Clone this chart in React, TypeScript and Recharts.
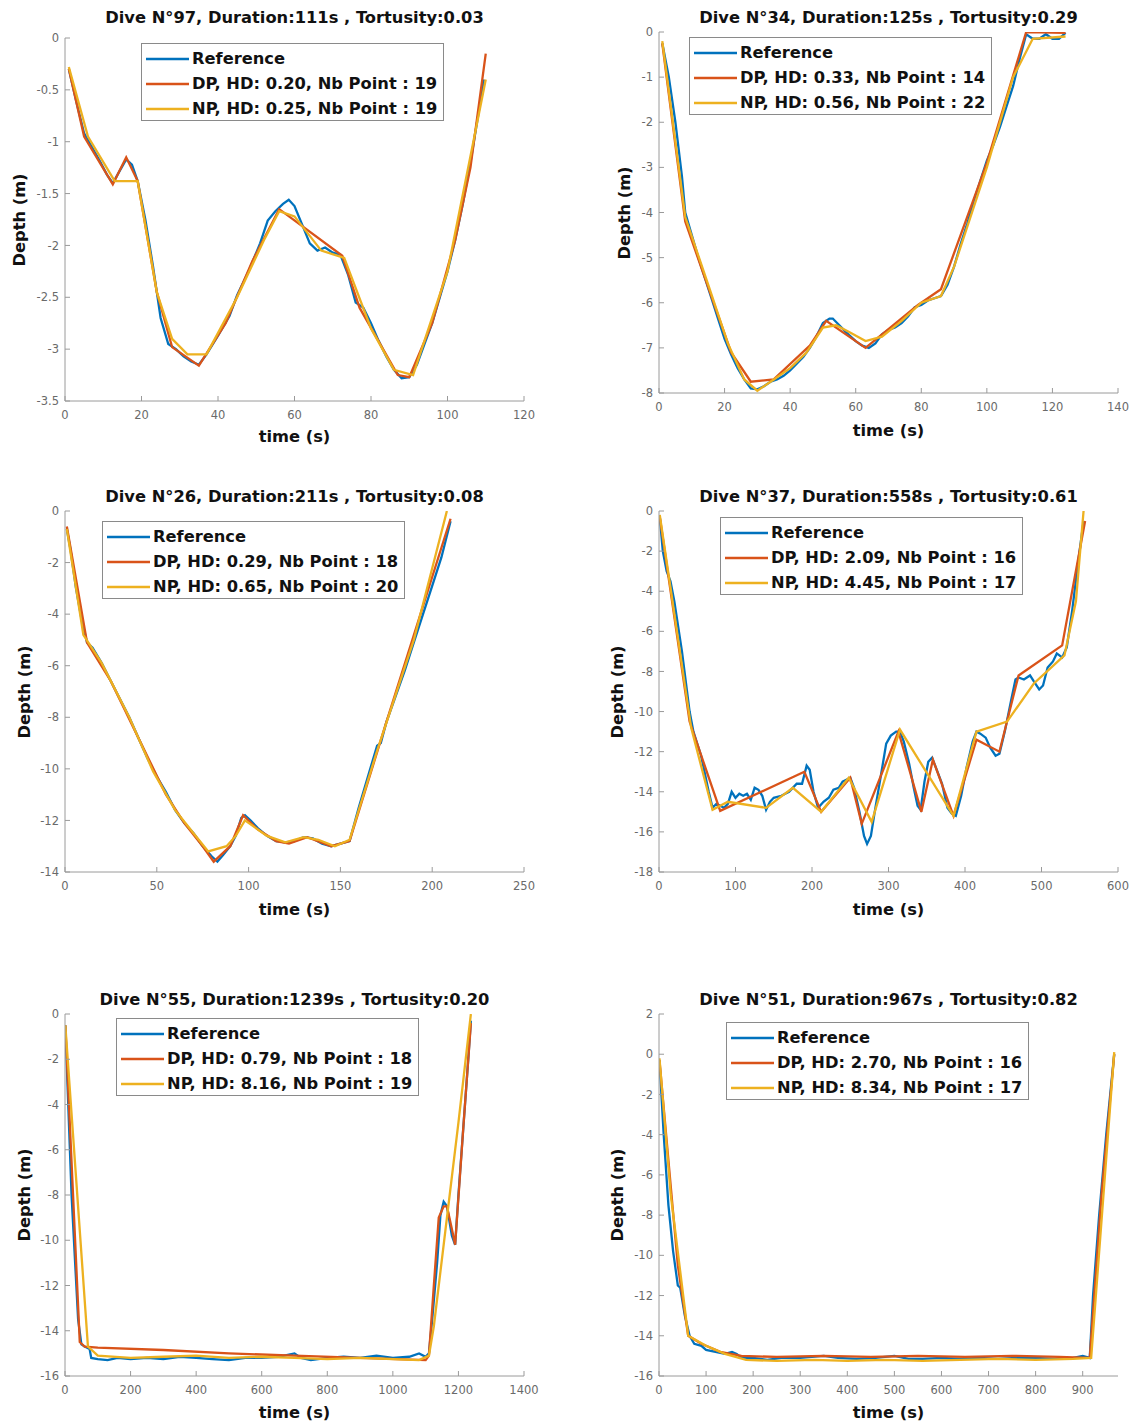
import React from 'react';
import { LineChart, Line, XAxis, YAxis } from 'recharts';

type Pt = [number, number];

// ---------- Dive 97 ----------
const ref97: Pt[] = [[1,-0.3],[3,-0.62],[5,-0.92],[7,-1.05],[9,-1.18],[11,-1.32],[12.5,-1.4],[14,-1.3],[16,-1.17],[17.5,-1.22],[19,-1.38],[21,-1.75],[23,-2.2],[25,-2.7],[27,-2.95],[29,-3.0],[31,-3.07],[33,-3.12],[35,-3.15],[37,-3.05],[40,-2.87],[43,-2.68],[45,-2.48],[48,-2.25],[51,-1.98],[53,-1.76],[55,-1.67],[57,-1.6],[58.5,-1.56],[60,-1.62],[62,-1.8],[64,-1.98],[66,-2.05],[68,-2.02],[70,-2.07],[72,-2.09],[74,-2.28],[76,-2.55],[78,-2.6],[80,-2.75],[82,-2.92],[84,-3.07],[86,-3.2],[88,-3.28],[90,-3.27],[92,-3.15],[94,-2.95],[96,-2.75],[98,-2.5],[100,-2.25],[102,-1.95],[104,-1.6],[106,-1.2],[108,-0.75],[109.5,-0.4]];
const dp97: Pt[] = [[1,-0.3],[5,-0.95],[12.5,-1.41],[16,-1.15],[19,-1.38],[24,-2.45],[28,-2.98],[35,-3.16],[42,-2.75],[49,-2.15],[56,-1.65],[72.5,-2.1],[77,-2.6],[87,-3.25],[90,-3.27],[96,-2.75],[102,-1.95],[106,-1.25],[110,-0.15]];
const np97: Pt[] = [[1,-0.28],[6,-0.95],[13,-1.38],[19,-1.38],[24,-2.45],[28,-2.9],[32,-3.05],[37,-3.05],[45,-2.5],[52,-1.95],[56,-1.67],[60,-1.72],[67,-2.05],[73,-2.12],[80,-2.8],[86,-3.2],[91,-3.25],[100,-2.25],[110,-0.4]];

// ---------- Dive 34 ----------
const ref34: Pt[] = [[1,-0.25],[3,-1.0],[5,-2.0],[7,-3.2],[8,-4.0],[10,-4.5],[12,-5.0],[14,-5.45],[16,-5.9],[18,-6.35],[20,-6.8],[22,-7.15],[24,-7.45],[26,-7.7],[28,-7.9],[30,-7.92],[32,-7.85],[34,-7.75],[36,-7.7],[38,-7.62],[40,-7.5],[42,-7.35],[44,-7.2],[46,-7.0],[48,-6.75],[50,-6.45],[52,-6.35],[53,-6.35],[55,-6.5],[57,-6.65],[60,-6.85],[62,-6.95],[64,-7.0],[66,-6.9],[68,-6.7],[70,-6.6],[72,-6.55],[74,-6.45],[76,-6.3],[78,-6.1],[80,-6.05],[82,-5.95],[84,-5.9],[86,-5.85],[88,-5.6],[90,-5.2],[92,-4.7],[94,-4.25],[96,-3.75],[98,-3.3],[100,-2.85],[102,-2.5],[104,-2.1],[106,-1.65],[108,-1.2],[110,-0.6],[112,-0.05],[114,-0.15],[116,-0.15],[118,-0.05],[120,-0.15],[122,-0.15],[124,-0.02]];
const dp34: Pt[] = [[1,-0.25],[8,-4.2],[14,-5.45],[22,-7.1],[28,-7.75],[35,-7.7],[46,-6.95],[51,-6.4],[63,-7.0],[79,-6.05],[86,-5.7],[100,-2.9],[112,0],[124,-0.02]];
const np34: Pt[] = [[1,-0.2],[8,-4.1],[15,-5.6],[21,-6.9],[26,-7.7],[30,-7.95],[35,-7.7],[40,-7.45],[45,-7.1],[50,-6.55],[54,-6.5],[58,-6.65],[63,-6.85],[68,-6.75],[74,-6.4],[80,-6.0],[86,-5.85],[90,-5.2],[100,-3.0],[108,-1.0],[114,-0.15],[124,-0.1]];

// ---------- Dive 26 ----------
const ref26: Pt[] = [[1,-0.7],[3,-1.5],[6,-3.0],[9,-4.2],[12,-5.1],[15,-5.3],[20,-5.9],[25,-6.6],[30,-7.3],[35,-8.0],[40,-8.8],[45,-9.6],[50,-10.3],[55,-10.9],[60,-11.6],[65,-12.1],[70,-12.5],[75,-13.0],[80,-13.4],[83,-13.6],[86,-13.35],[90,-13.0],[93,-12.6],[96,-11.9],[98,-11.8],[101,-12.0],[105,-12.3],[110,-12.6],[115,-12.8],[120,-12.85],[125,-12.8],[130,-12.65],[135,-12.7],[140,-12.9],[145,-13.0],[150,-12.9],[155,-12.8],[160,-11.5],[165,-10.3],[170,-9.1],[172,-9.0],[175,-8.2],[180,-7.2],[185,-6.2],[190,-5.1],[195,-4.0],[200,-2.9],[205,-1.8],[210,-0.4]];
const dp26: Pt[] = [[1,-0.6],[12,-5.1],[25,-6.6],[40,-8.8],[55,-11.0],[65,-12.1],[75,-13.0],[81,-13.6],[90,-13.0],[97,-11.8],[105,-12.35],[115,-12.8],[122,-12.9],[132,-12.65],[145,-13.0],[155,-12.8],[175,-8.2],[210,-0.3]];
const np26: Pt[] = [[1,-0.7],[10,-4.8],[20,-5.9],[35,-8.0],[48,-10.1],[60,-11.6],[70,-12.5],[78,-13.2],[88,-13.0],[93,-12.6],[98,-12.0],[110,-12.6],[120,-12.85],[130,-12.65],[138,-12.75],[147,-13.0],[155,-12.75],[170,-9.3],[190,-5.0],[208,0]];

// ---------- Dive 37 ----------
const ref37: Pt[] = [[1,-0.3],[5,-2.0],[10,-3.0],[15,-3.5],[20,-4.5],[30,-7.0],[40,-10.0],[45,-11.0],[55,-12.2],[65,-14.0],[70,-14.8],[75,-14.6],[80,-14.7],[85,-14.8],[90,-14.6],[95,-14.0],[100,-14.3],[105,-14.1],[110,-14.2],[115,-14.1],[120,-14.4],[125,-13.8],[130,-13.9],[135,-14.2],[140,-14.9],[145,-14.5],[150,-14.3],[160,-14.2],[170,-14.0],[180,-13.6],[187,-13.6],[193,-12.7],[197,-12.9],[202,-14.0],[208,-14.8],[215,-14.5],[222,-14.3],[228,-13.9],[235,-13.8],[240,-13.5],[245,-13.4],[250,-13.3],[255,-13.8],[262,-15.0],[268,-16.2],[272,-16.6],[277,-16.2],[282,-15.0],[290,-13.2],[297,-11.6],[303,-11.2],[310,-11.0],[315,-11.0],[320,-11.5],[327,-12.6],[333,-13.8],[338,-14.7],[342,-14.9],[347,-13.5],[352,-12.5],[357,-12.3],[362,-12.8],[370,-13.6],[377,-14.8],[383,-15.1],[388,-15.2],[395,-14.2],[402,-12.8],[410,-11.5],[415,-11.0],[420,-11.1],[427,-11.3],[433,-11.8],[440,-12.2],[445,-12.1],[452,-11.0],[460,-9.5],[466,-8.4],[470,-8.3],[477,-8.4],[485,-8.2],[490,-8.5],[497,-8.9],[502,-8.7],[508,-7.8],[515,-7.5],[520,-7.1],[527,-7.3],[533,-6.8],[540,-5.0],[548,-2.5],[555,-0.5]];
const dp37: Pt[] = [[1,-0.3],[40,-10.5],[80,-14.95],[190,-13.0],[212,-15.0],[250,-13.3],[265,-15.6],[313,-11.0],[343,-15.0],[358,-12.4],[385,-15.2],[415,-11.4],[445,-12.0],[470,-8.2],[527,-6.7],[557,-0.5]];
const np37: Pt[] = [[1,-0.2],[42,-10.8],[70,-14.9],[90,-14.5],[140,-14.8],[175,-13.8],[212,-15.0],[248,-13.3],[278,-15.5],[315,-10.9],[385,-15.2],[415,-11.0],[455,-10.5],[490,-8.6],[530,-7.2],[545,-4.5],[555,0]];

// ---------- Dive 55 ----------
const ref55: Pt[] = [[1,-0.5],[20,-8],[40,-13.5],[50,-14.6],[60,-14.7],[75,-14.8],[80,-15.2],[100,-15.25],[130,-15.3],[160,-15.2],[200,-15.25],[250,-15.2],[300,-15.25],[350,-15.15],[400,-15.2],[450,-15.25],[500,-15.3],[550,-15.2],[600,-15.2],[650,-15.15],[700,-15.0],[720,-15.2],[750,-15.3],[800,-15.2],[850,-15.15],[900,-15.2],[950,-15.1],[1000,-15.2],[1050,-15.15],[1080,-15.0],[1100,-15.15],[1110,-15.0],[1120,-13.5],[1135,-11.0],[1145,-8.9],[1155,-8.3],[1165,-8.5],[1180,-9.8],[1190,-10.2],[1200,-8.0],[1210,-6.0],[1220,-4.0],[1230,-2.0],[1238,-0.3]];
const dp55: Pt[] = [[1,-0.5],[45,-14.5],[60,-14.7],[100,-14.75],[300,-14.85],[500,-15.0],[700,-15.1],[900,-15.2],[1100,-15.3],[1110,-15.1],[1125,-12.0],[1140,-9.0],[1155,-8.5],[1165,-8.5],[1180,-9.5],[1190,-10.2],[1215,-5.0],[1238,-0.4]];
const np55: Pt[] = [[1,-0.5],[70,-14.7],[100,-15.1],[200,-15.2],[300,-15.15],[400,-15.1],[500,-15.2],[600,-15.15],[700,-15.2],[800,-15.25],[900,-15.2],[1000,-15.25],[1080,-15.3],[1110,-15.1],[1125,-13.8],[1160,-9.6],[1200,-4.8],[1230,-1.0],[1238,0]];

// ---------- Dive 51 ----------
const ref51: Pt[] = [[1,-0.3],[10,-4],[20,-7.5],[30,-9.8],[40,-11.5],[45,-11.6],[55,-13.0],[65,-14.0],[75,-14.4],[90,-14.5],[100,-14.7],[120,-14.8],[140,-14.9],[155,-14.8],[165,-14.9],[175,-15.1],[200,-15.1],[230,-15.2],[260,-15.1],[300,-15.1],[350,-15.0],[380,-15.1],[420,-15.15],[460,-15.1],[500,-15.0],[530,-15.15],[560,-15.15],[600,-15.1],[640,-15.15],[680,-15.1],[720,-15.15],[760,-15.1],[800,-15.1],[840,-15.15],[880,-15.1],[900,-15.0],[915,-15.1],[922,-12.0],[935,-8.0],[950,-4.0],[967,0.0]];
const dp51: Pt[] = [[1,-0.3],[40,-10.5],[62,-14.0],[90,-14.4],[130,-14.8],[175,-15.0],[250,-15.05],[350,-15.0],[450,-15.05],[550,-15.0],[650,-15.05],[750,-15.0],[850,-15.05],[915,-15.1],[940,-7.0],[967,0]];
const np51: Pt[] = [[1,-0.2],[25,-7.0],[62,-14.0],[100,-14.5],[140,-14.9],[185,-15.2],[250,-15.25],[330,-15.2],[400,-15.25],[480,-15.2],[560,-15.25],[640,-15.2],[720,-15.15],[800,-15.2],[880,-15.15],[918,-15.1],[967,0.1]];

// ---------- Titles / legends / ticks ----------
const titles = [
  'Dive N°97, Duration:111s , Tortusity:0.03',
  'Dive N°34, Duration:125s , Tortusity:0.29',
  'Dive N°26, Duration:211s , Tortusity:0.08',
  'Dive N°37, Duration:558s , Tortusity:0.61',
  'Dive N°55, Duration:1239s , Tortusity:0.20',
  'Dive N°51, Duration:967s , Tortusity:0.82',
];
const dpLabels = [
  'DP, HD: 0.20, Nb Point : 19',
  'DP, HD: 0.33, Nb Point : 14',
  'DP, HD: 0.29, Nb Point : 18',
  'DP, HD: 2.09, Nb Point : 16',
  'DP, HD: 0.79, Nb Point : 18',
  'DP, HD: 2.70, Nb Point : 16',
];
const npLabels = [
  'NP, HD: 0.25, Nb Point : 19',
  'NP, HD: 0.56, Nb Point : 22',
  'NP, HD: 0.65, Nb Point : 20',
  'NP, HD: 4.45, Nb Point : 17',
  'NP, HD: 8.16, Nb Point : 19',
  'NP, HD: 8.34, Nb Point : 17',
];
const xTicks = [
  [0, 20, 40, 60, 80, 100, 120],
  [0, 20, 40, 60, 80, 100, 120, 140],
  [0, 50, 100, 150, 200, 250],
  [0, 100, 200, 300, 400, 500, 600],
  [0, 200, 400, 600, 800, 1000, 1200, 1400],
  [0, 100, 200, 300, 400, 500, 600, 700, 800, 900],
];
const xMax = [120, 140, 250, 600, 1400, 975];
const yTicks = [
  [0, -0.5, -1, -1.5, -2, -2.5, -3, -3.5],
  [0, -1, -2, -3, -4, -5, -6, -7, -8],
  [0, -2, -4, -6, -8, -10, -12, -14],
  [0, -2, -4, -6, -8, -10, -12, -14, -16, -18],
  [0, -2, -4, -6, -8, -10, -12, -14, -16],
  [2, 0, -2, -4, -6, -8, -10, -12, -14, -16],
];
const refSeries = [ref97, ref34, ref26, ref37, ref55, ref51];
const dpSeries = [dp97, dp34, dp26, dp37, dp55, dp51];
const npSeries = [np97, np34, np26, np37, np55, np51];

// ---------- layout (positions, not data) ----------
const layout = [
  { px: 65, py: 38, pw: 459, ph: 363, titleY: 18, xlabY: 437, ylabX: 20, lx: 141, ly: 43 },
  { px: 659, py: 32, pw: 459, ph: 361, titleY: 18, xlabY: 431, ylabX: 625, lx: 689, ly: 37 },
  { px: 65, py: 511, pw: 459, ph: 361, titleY: 497, xlabY: 910, ylabX: 25, lx: 102, ly: 521 },
  { px: 659, py: 511, pw: 459, ph: 361, titleY: 497, xlabY: 910, ylabX: 618, lx: 720, ly: 517 },
  { px: 65, py: 1014, pw: 459, ph: 362, titleY: 1000, xlabY: 1413, ylabX: 25, lx: 116, ly: 1018 },
  { px: 659, py: 1014, pw: 459, ph: 362, titleY: 1000, xlabY: 1413, ylabX: 618, lx: 726, ly: 1022 },
];

const BLUE = '#0072BD';
const RED = '#D95319';
const YEL = '#EDB120';
const AXIS = '#9a9a9a';
const TICKTXT = '#6a6a6a';
const FONT = '"DejaVu Sans", Verdana, sans-serif';
const LW = 2.3;

const toObj = (arr: Pt[]) => arr.map(([t, d]) => ({ t, d }));

const centerText = (x: number, y: number, text: string, extra: React.CSSProperties = {}) => (
  <div
    style={{
      position: 'absolute',
      left: x,
      top: y,
      transform: 'translate(-50%, -50%)',
      whiteSpace: 'nowrap',
      fontFamily: FONT,
      fontWeight: 'bold',
      fontSize: 16.3,
      color: '#111',
      lineHeight: 1,
      ...extra,
    }}
  >
    {text}
  </div>
);

function LegendBox({ x, y, dp, np }: { x: number; y: number; dp: string; np: string }) {
  const rows = [
    { c: BLUE, t: 'Reference' },
    { c: RED, t: dp },
    { c: YEL, t: np },
  ];
  return (
    <div
      style={{
        position: 'absolute',
        left: x,
        top: y,
        width: 303,
        height: 78,
        border: '1px solid #8a8a8a',
        background: '#fff',
        boxSizing: 'border-box',
      }}
    >
      <svg width={50} height={78} style={{ position: 'absolute', left: 0, top: 0 }}>
        {rows.map((r, i) => (
          <line key={i} x1={4} x2={47} y1={15 + i * 25} y2={15 + i * 25} stroke={r.c} strokeWidth={LW} />
        ))}
      </svg>
      {rows.map((r, i) => (
        <div
          key={i}
          style={{
            position: 'absolute',
            left: 50,
            top: 15 + i * 25 - 10,
            whiteSpace: 'nowrap',
            fontFamily: FONT,
            fontWeight: 'bold',
            fontSize: 16.3,
            lineHeight: '20px',
            color: '#111',
          }}
        >
          {r.t}
        </div>
      ))}
    </div>
  );
}

function Panel({ i }: { i: number }) {
  const L = layout[i];
  const padL = 60;
  const padT = 10;
  const padR = 20;
  const padB = 40;
  const yW = 50;
  const xH = 30;
  const chartW = L.pw + padL + padR;
  const chartH = L.ph + padT + padB;
  const yt = yTicks[i];
  const yDom: [number, number] = [Math.min(...yt), Math.max(...yt)];
  const xDom: [number, number] = [0, xMax[i]];
  const tickStyle = { fill: TICKTXT, fontSize: 11.5, fontFamily: FONT };
  const fmt = (v: number) => String(v);
  return (
    <>
      <div style={{ position: 'absolute', left: L.px - padL, top: L.py - padT }}>
        <LineChart
          width={chartW}
          height={chartH}
          margin={{ top: padT, left: padL - yW, right: padR, bottom: padB - xH }}
        >
          <XAxis
            xAxisId={0}
            type="number"
            dataKey="t"
            domain={xDom}
            ticks={xTicks[i]}
            interval={0}
            allowDataOverflow
            height={xH}
            stroke={AXIS}
            tickSize={-5}
            tickMargin={15}
            tick={tickStyle}
            tickFormatter={fmt}
          />
          <XAxis
            xAxisId="top"
            orientation="top"
            type="number"
            dataKey="t"
            domain={xDom}
            ticks={xTicks[i]}
            interval={0}
            allowDataOverflow
            height={0}
            stroke={AXIS}
            tickSize={-5}
            tick={false}
          />
          <YAxis
            yAxisId={0}
            type="number"
            domain={yDom}
            ticks={yt}
            interval={0}
            allowDataOverflow
            width={yW}
            stroke={AXIS}
            tickSize={-5}
            tickMargin={11}
            tick={tickStyle}
            tickFormatter={fmt}
          />
          <YAxis
            yAxisId="right"
            orientation="right"
            type="number"
            domain={yDom}
            ticks={yt}
            interval={0}
            allowDataOverflow
            width={0}
            stroke={AXIS}
            tickSize={-5}
            tick={false}
          />
          <Line
            data={toObj(refSeries[i])}
            dataKey="d"
            type="linear"
            stroke={BLUE}
            strokeWidth={LW}
            dot={false}
            isAnimationActive={false}
          />
          <Line
            data={toObj(dpSeries[i])}
            dataKey="d"
            type="linear"
            stroke={RED}
            strokeWidth={LW}
            dot={false}
            isAnimationActive={false}
          />
          <Line
            data={toObj(npSeries[i])}
            dataKey="d"
            type="linear"
            stroke={YEL}
            strokeWidth={LW}
            dot={false}
            isAnimationActive={false}
          />
        </LineChart>
      </div>
      {centerText(L.px + L.pw / 2, L.titleY, titles[i])}
      {centerText(L.px + L.pw / 2, L.xlabY, 'time (s)')}
      {centerText(L.ylabX, L.py + L.ph / 2, 'Depth (m)', { transform: 'translate(-50%, -50%) rotate(-90deg)' })}
      <LegendBox x={L.lx} y={L.ly} dp={dpLabels[i]} np={npLabels[i]} />
    </>
  );
}

export default function App() {
  return (
    <div
      style={{
        position: 'absolute',
        left: 0,
        top: 0,
        width: 1135,
        height: 1425,
        background: '#fff',
        overflow: 'hidden',
      }}
    >
      {[0, 1, 2, 3, 4, 5].map((i) => (
        <Panel key={i} i={i} />
      ))}
    </div>
  );
}
